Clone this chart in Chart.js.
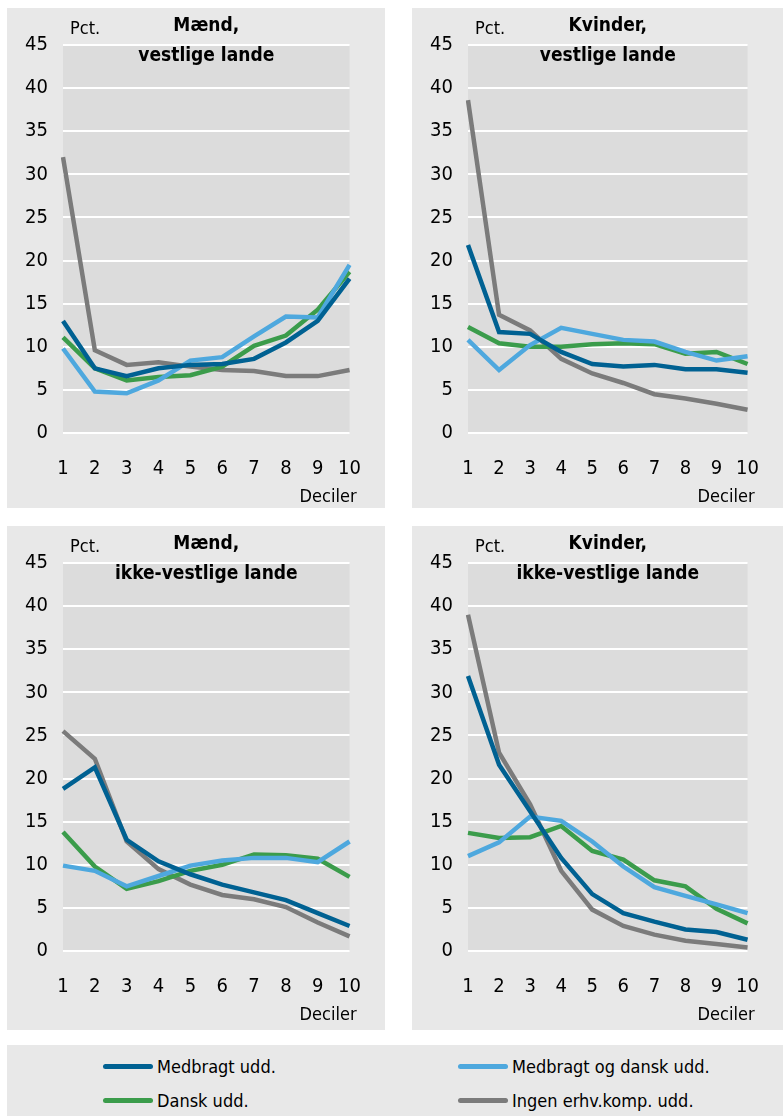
<!DOCTYPE html>
<html>
<head>
<meta charset="utf-8">
<script src="https://cdn.jsdelivr.net/npm/chart.js@4/dist/chart.umd.min.js"></script>
<style>
  body { margin: 0; background: #fff; width: 783px; height: 1116px; position: relative; overflow: hidden; }
  .panel { position: absolute; background: #e8e8e8; }
  .panel canvas { position: absolute; left: 0; top: 0; }
  #legend { position: absolute; left: 7px; top: 1045px; width: 776px; height: 71px; background: #e8e8e8;
    font-family: "DejaVu Sans Condensed", "Roboto Condensed", Roboto, sans-serif; font-size: 18px; color: #000; }
  .item { position: absolute; display: flex; align-items: center; }
  .swatch { width: 50px; height: 5px; border-radius: 2.5px; margin-right: 4px; }
</style>
</head>
<body>
<div class="panel" style="left:7px;top:8px;width:378px;height:500px"><canvas id="c1" width="378" height="500"></canvas></div>
<div class="panel" style="left:412px;top:8px;width:371px;height:500px"><canvas id="c2" width="371" height="500"></canvas></div>
<div class="panel" style="left:7px;top:526px;width:378px;height:504px"><canvas id="c3" width="378" height="500"></canvas></div>
<div class="panel" style="left:412px;top:526px;width:371px;height:504px"><canvas id="c4" width="371" height="500"></canvas></div>
<div id="legend"></div>
<script>
'use strict';
const deciles = ['1', '2', '3', '4', '5', '6', '7', '8', '9', '10'];
const seriesNames = ['Medbragt udd.', 'Medbragt og dansk udd.', 'Dansk udd.', 'Ingen erhv.komp. udd.'];
const seriesColors = ['#006192', '#4ea8de', '#3b9c4b', '#7b7b7b'];

// Mænd, vestlige lande
const menWestMedbragt = [13.0, 7.5, 6.6, 7.5, 7.9, 8.0, 8.6, 10.5, 13.0, 17.9];
const menWestBoth = [9.8, 4.8, 4.6, 6.1, 8.4, 8.8, 11.2, 13.5, 13.4, 19.5];
const menWestDansk = [11.1, 7.5, 6.1, 6.5, 6.7, 7.7, 10.1, 11.3, 14.3, 18.7];
const menWestIngen = [32.0, 9.6, 7.9, 8.2, 7.7, 7.3, 7.2, 6.6, 6.6, 7.3];

// Kvinder, vestlige lande
const womenWestMedbragt = [21.8, 11.7, 11.5, 9.4, 8.0, 7.7, 7.9, 7.4, 7.4, 7.0];
const womenWestBoth = [10.8, 7.3, 10.2, 12.2, 11.5, 10.8, 10.6, 9.4, 8.4, 8.9];
const womenWestDansk = [12.3, 10.4, 10.0, 10.0, 10.3, 10.4, 10.3, 9.2, 9.4, 8.0];
const womenWestIngen = [38.6, 13.7, 11.9, 8.6, 6.9, 5.8, 4.5, 4.0, 3.4, 2.7];

// Mænd, ikke-vestlige lande
const menNonWestMedbragt = [18.8, 21.3, 12.9, 10.4, 8.9, 7.7, 6.8, 5.9, 4.4, 2.9];
const menNonWestBoth = [9.9, 9.3, 7.5, 8.7, 9.9, 10.5, 10.8, 10.8, 10.3, 12.7];
const menNonWestDansk = [13.8, 9.8, 7.2, 8.1, 9.3, 10.0, 11.2, 11.1, 10.7, 8.6];
const menNonWestIngen = [25.5, 22.3, 12.7, 9.5, 7.7, 6.5, 6.0, 5.1, 3.3, 1.7];

// Kvinder, ikke-vestlige lande
const womenNonWestMedbragt = [31.9, 21.6, 16.2, 10.8, 6.6, 4.4, 3.4, 2.5, 2.2, 1.3];
const womenNonWestBoth = [11.0, 12.6, 15.6, 15.1, 12.7, 9.8, 7.4, 6.4, 5.4, 4.4];
const womenNonWestDansk = [13.7, 13.1, 13.2, 14.5, 11.6, 10.6, 8.2, 7.5, 4.9, 3.2];
const womenNonWestIngen = [39.0, 23.0, 17.0, 9.3, 4.8, 2.9, 1.9, 1.2, 0.8, 0.4];

const FONT = '"DejaVu Sans Condensed", "Roboto Condensed", Roboto, sans-serif';

// background of plot area + texts (Pct., title, Deciler)
const panelText = {
  id: 'panelText',
  beforeDraw(chart) {
    const a = chart.chartArea;
    const ctx = chart.ctx;
    ctx.save();
    ctx.fillStyle = '#dcdcdc';
    ctx.fillRect(a.left, a.top, a.right - a.left, a.bottom - a.top);
    ctx.restore();
  },
  afterDraw(chart, args, opts) {
    const a = chart.chartArea;
    const ctx = chart.ctx;
    const mid = (a.left + a.right) / 2;
    ctx.save();
    ctx.fillStyle = '#000';
    ctx.textBaseline = 'middle';
    ctx.font = '18px ' + FONT;
    ctx.textAlign = 'left';
    ctx.fillText('Pct.', a.left + 7, 21);
    ctx.textAlign = 'right';
    ctx.fillText('Deciler', a.right + 7, 489);
    ctx.font = 'bold 19px ' + FONT;
    ctx.textAlign = 'center';
    ctx.fillText(opts.title[0], mid, 18);
    ctx.fillText(opts.title[1], mid, 48);
    ctx.restore();
  }
};

function makeChart(id, title, data, rightPad) {
  const ctx = document.getElementById(id).getContext('2d');
  return new Chart(ctx, {
    type: 'line',
    data: {
      labels: deciles,
      datasets: data.map(function (d, i) {
        return {
          label: seriesNames[i],
          data: d,
          borderColor: seriesColors[i],
          backgroundColor: seriesColors[i],
          borderWidth: 4.5,
          pointRadius: 0,
          tension: 0,
          order: i === 3 ? 4 : i
        };
      })
    },
    options: {
      responsive: false,
      devicePixelRatio: 1,
      animation: false,
      layout: { padding: { top: 37, right: rightPad, left: 0, bottom: 0 } },
      plugins: {
        legend: { display: false },
        tooltip: { enabled: false },
        panelText: { title: title }
      },
      scales: {
        x: {
          offset: false,
          grid: { display: false, drawTicks: false },
          border: { display: false },
          ticks: { color: '#000', font: { family: FONT, size: 20 }, padding: 24, maxRotation: 0, autoSkip: false },
          afterFit(scale) { scale.height = 75; }
        },
        y: {
          min: 0,
          max: 45,
          grid: { color: '#ffffff', lineWidth: 2, drawTicks: false },
          border: { display: false },
          ticks: { stepSize: 5, color: '#000', font: { family: FONT, size: 20 }, padding: 15 },
          afterFit(scale) { scale.width = 56; }
        }
      }
    },
    plugins: [panelText]
  });
}

makeChart('c1', ['Mænd,', 'vestlige lande'], [menWestMedbragt, menWestBoth, menWestDansk, menWestIngen], 30);
makeChart('c2', ['Kvinder,', 'vestlige lande'], [womenWestMedbragt, womenWestBoth, womenWestDansk, womenWestIngen], 23);
makeChart('c3', ['Mænd,', 'ikke-vestlige lande'], [menNonWestMedbragt, menNonWestBoth, menNonWestDansk, menNonWestIngen], 30);
makeChart('c4', ['Kvinder,', 'ikke-vestlige lande'], [womenNonWestMedbragt, womenNonWestBoth, womenNonWestDansk, womenNonWestIngen], 23);

// legend
const legend = document.getElementById('legend');
const legendPos = [[96, 21], [451, 21], [96, 55], [451, 55]];
for (let i = 0; i < seriesNames.length; i++) {
  const item = document.createElement('div');
  item.className = 'item';
  item.style.left = legendPos[i][0] + 'px';
  item.style.top = (legendPos[i][1] - 12) + 'px';
  item.style.height = '24px';
  const sw = document.createElement('div');
  sw.className = 'swatch';
  sw.style.background = seriesColors[i];
  const txt = document.createElement('span');
  txt.textContent = seriesNames[i];
  item.appendChild(sw);
  item.appendChild(txt);
  legend.appendChild(item);
}
</script>
</body>
</html>
